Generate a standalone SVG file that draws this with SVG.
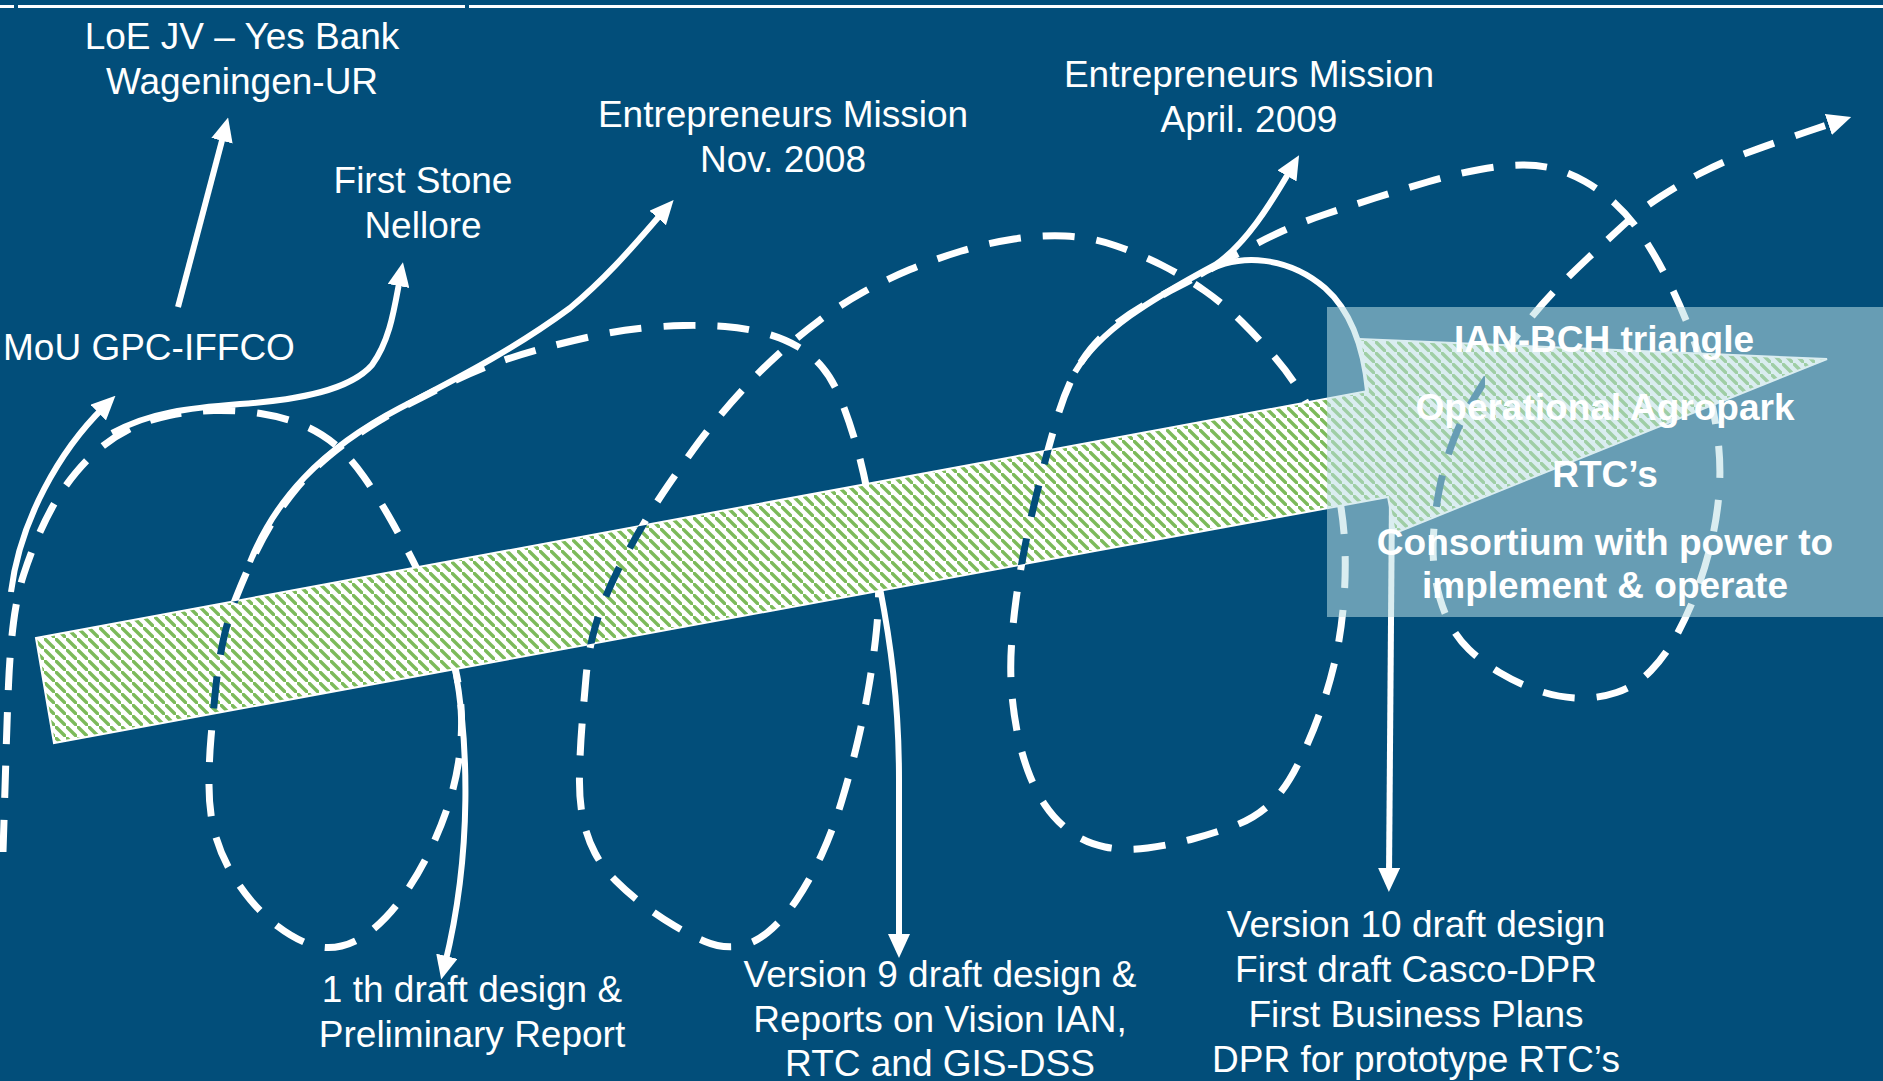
<svg xmlns="http://www.w3.org/2000/svg" width="1883" height="1081" viewBox="0 0 1883 1081">
<style>
.t{fill:#fff;font-family:"Liberation Sans",Arial,sans-serif;font-size:37px;text-anchor:middle}
.b{font-weight:bold}
.sol{fill:none;stroke:#fff;stroke-width:6;marker-end:url(#ah)}
.sol2{fill:none;stroke:#fff;stroke-width:6}
.dash{fill:none;stroke:#fff;stroke-width:7;stroke-dasharray:32 22}
</style>
<defs>
<marker id="ah" markerUnits="userSpaceOnUse" markerWidth="24" markerHeight="22" viewBox="0 0 24 22" refX="8" refY="11" orient="auto"><path d="M0,0 L24,11 L0,22 z" fill="#fff"/></marker>
<pattern id="stripe" patternUnits="userSpaceOnUse" width="11" height="11">
<rect width="11" height="11" fill="#fff"/>
<path d="M0,0 L2.4,0 L11,8.6 L11,11 L8.6,11 L0,2.4 z" fill="#7CBA5A"/>
</pattern>
<clipPath id="bandClip"><polygon points="36,638 1368,391 1360,339 1827,359 1395,533 1388,497 54,743"/></clipPath>
<clipPath id="darkClip">
<rect x="160" y="560" width="95" height="200" clip-path="url(#bandClip)"/>
<rect x="555" y="480" width="130" height="200" clip-path="url(#bandClip)"/>
<rect x="995" y="420" width="70" height="180" clip-path="url(#bandClip)"/>
<rect x="1415" y="330" width="70" height="220" clip-path="url(#bandClip)"/>
</clipPath>
<path id="spiral" d="M3,852 Q5,790 6,755 Q7,720 8.5,685 Q10,650 13.5,622.5 Q17,595 23.5,575 Q30,555 38,536.5 Q46,518 55,502.5 Q64,487 76,472.5 Q88,458 101.5,447 Q115,436 131.5,428 Q148,420 169,415.5 Q190,411 214,410.5 Q238,410 260.5,413.5 Q283,417 301.5,424.5 Q320,432 335,444.5 Q350,457 364,477 Q378,497 391.5,521 Q405,545 417.5,570 Q430,595 440,620 Q450,645 455.5,670 Q461,695 461.5,717.5 Q462,740 458.5,762.5 Q455,785 447.5,807.5 Q440,830 429,852.5 Q418,875 404,895 Q390,915 374,928.5 Q358,942 341.5,946 Q325,950 309,944 Q293,938 278,926.5 Q263,915 250.5,900 Q238,885 228.5,867.5 Q219,850 214,830 Q209,810 209,785 Q209,760 211,737.5 Q213,715 215.5,690 Q218,665 223,641.5 Q228,618 236.5,596.5 Q245,575 254,556 Q263,537 274,519.5 Q285,502 298.5,486 Q312,470 329.5,455.5 Q347,441 367.5,428 Q388,415 410,403.5 Q432,392 452,382 Q472,372 492,364.5 Q512,357 537,350 Q562,343 589,337 Q616,331 639,328.5 Q662,326 683.5,325.5 Q705,325 725,326.5 Q745,328 764,333 Q783,338 797.5,346.5 Q812,355 822.5,367.5 Q833,380 841,400 Q849,420 855.5,442.5 Q862,465 867,490 Q872,515 875,537.5 Q878,560 878.5,582.5 Q879,605 876.5,630 Q874,655 869.5,682.5 Q865,710 858,740 Q851,770 842,800 Q833,830 821.5,855 Q810,880 796.5,900 Q783,920 767.5,932.5 Q752,945 736,946.5 Q720,948 705,941.5 Q690,935 674,925.5 Q658,916 643,904.5 Q628,893 615.5,880.5 Q603,868 595,853 Q587,838 583,819 Q579,800 579.5,775 Q580,750 582,725 Q584,700 586,677.5 Q588,655 593,635 Q598,615 606,596 Q614,577 624,558.5 Q634,540 645,521.5 Q656,503 668,485.5 Q680,468 693,450 Q706,432 720.5,415 Q735,398 750.5,381.5 Q766,365 783,350 Q800,335 820,320 Q840,305 862.5,292.5 Q885,280 910,269.5 Q935,259 961.5,251 Q988,243 1014,239 Q1040,235 1065,236 Q1090,237 1115,245.5 Q1140,254 1162.5,265.5 Q1185,277 1205,291 Q1225,305 1242.5,322.5 Q1260,340 1275,357.5 Q1290,375 1301,393.5 Q1312,412 1322,437 Q1332,462 1338,491 Q1344,520 1345,550 Q1346,580 1343,610 Q1340,640 1334,665 Q1328,690 1319,715 Q1310,740 1297.5,765 Q1285,790 1270,804 Q1255,818 1235,825.5 Q1215,833 1192.5,839 Q1170,845 1147.5,848 Q1125,851 1105,847 Q1085,843 1070,831.5 Q1055,820 1045,805 Q1035,790 1028,771 Q1021,752 1017,731 Q1013,710 1011.5,689 Q1010,668 1011.5,645 Q1013,622 1016,600 Q1019,578 1023.5,554 Q1028,530 1034,505 Q1040,480 1046,457.5 Q1052,435 1058,415 Q1064,395 1072,378.5 Q1080,362 1091,348.5 Q1102,335 1116,324 Q1130,313 1146,304 Q1162,295 1178.5,286.5 Q1195,278 1211.5,268.5 Q1228,259 1246.5,249 Q1265,239 1283.5,230.5 Q1302,222 1326,214 Q1350,206 1375,198 Q1400,190 1427.5,182 Q1455,174 1480,169.5 Q1505,165 1522.5,165 Q1540,165 1555,169 Q1570,173 1585,181.5 Q1600,190 1615,203.5 Q1630,217 1642.5,236 Q1655,255 1666.5,277.5 Q1678,300 1688,325 Q1698,350 1705.5,377.5 Q1713,405 1717,432.5 Q1721,460 1719.5,486 Q1718,512 1712.5,537 Q1707,562 1698.5,586 Q1690,610 1678,632.5 Q1666,655 1651,670.5 Q1636,686 1616.5,692.5 Q1597,699 1576.5,698 Q1556,697 1536.5,690 Q1517,683 1499.5,672.5 Q1482,662 1469,649.5 Q1456,637 1448,620 Q1440,603 1436,581.5 Q1432,560 1433.5,535 Q1435,510 1440,486 Q1445,462 1453.5,440 Q1462,418 1473.5,399 Q1485,380 1498,361.5 Q1511,343 1525.5,324.5 Q1540,306 1555,290.5 Q1570,275 1587.5,258.5 Q1605,242 1622.5,226 Q1640,210 1660,197 Q1680,184 1700,173.5 Q1720,163 1740,155.5 Q1760,148 1780,141 Q1800,134 1818,128 L1836,122"/>
</defs>
<rect width="1883" height="1081" fill="#024E7A"/>
<g id="topline" stroke="#fff" stroke-width="3">
<line x1="0" y1="6.5" x2="14" y2="6.5"/>
<line x1="18" y1="6.5" x2="465" y2="6.5"/>
<line x1="469" y1="6.5" x2="1883" y2="6.5"/>
</g>
<g id="connectors">
<use href="#spiral" class="dash" style="marker-end:url(#ah)"/>
<path class="sol" d="M11,592 C20,520 60,450 104,407"/>
<path class="sol" d="M178,307 L224,133"/>
<path class="sol" d="M112,433 C150,412 190,408 240,404 C300,400 350,390 372,365 C390,340 394,310 400,278"/>
<path class="sol" d="M250,562 C275,500 320,450 400,408 C470,372 520,345 570,308 C610,275 640,238 663,212"/>
<path class="sol" d="M455,668 C468,740 473,850 445,964"/>
<path class="sol" d="M880,588 C890,640 899,700 899,780 L899,942"/>
<path class="sol" d="M1075,372 C1100,330 1150,300 1215,265 C1245,245 1270,205 1291,169"/>
<path class="sol2" d="M1200,275 C1240,250 1290,258 1325,288 C1352,312 1364,350 1368,391"/>
<path class="sol" d="M1392,496 L1389,876"/>
</g>
<g id="band">
<polygon points="36,638 1368,391 1360,339 1827,359 1395,533 1388,497 54,743" fill="url(#stripe)" stroke="#fff" stroke-width="2"/>
<use href="#spiral" class="dash" style="stroke:#024E7A" clip-path="url(#darkClip)"/>
</g>
<g id="box-result">
<rect x="1327" y="307" width="556" height="310" fill="rgb(187,222,227)" fill-opacity="0.55"/>
<text class="t b" x="1604" y="352">IAN-BCH triangle</text>
<text class="t b" x="1605" y="420">Operational Agropark</text>
<text class="t b" x="1605" y="487">RTC’s</text>
<text class="t b" x="1605" y="555">Consortium with power to</text>
<text class="t b" x="1605" y="598">implement &amp; operate</text>
</g>
<g id="loe"><text class="t" x="242" y="49">LoE JV – Yes Bank</text><text class="t" x="242" y="94">Wageningen-UR</text></g>
<g id="firststone"><text class="t" x="423" y="193">First Stone</text><text class="t" x="423" y="238">Nellore</text></g>
<g id="mou"><text class="t" x="3" y="360" style="text-anchor:start">MoU GPC-IFFCO</text></g>
<g id="mission2008"><text class="t" x="783" y="127">Entrepreneurs Mission</text><text class="t" x="783" y="172">Nov. 2008</text></g>
<g id="mission2009"><text class="t" x="1249" y="87">Entrepreneurs Mission</text><text class="t" x="1249" y="132">April. 2009</text></g>
<g id="draft1"><text class="t" x="472" y="1002">1 th draft design &amp;</text><text class="t" x="472" y="1047">Preliminary Report</text></g>
<g id="version9"><text class="t" x="940" y="987">Version 9 draft design &amp;</text><text class="t" x="940" y="1032">Reports on Vision IAN,</text><text class="t" x="940" y="1076">RTC and GIS-DSS</text></g>
<g id="version10"><text class="t" x="1416" y="937">Version 10 draft design</text><text class="t" x="1416" y="982">First draft Casco-DPR</text><text class="t" x="1416" y="1027">First Business Plans</text><text class="t" x="1416" y="1072">DPR for prototype RTC’s</text></g>
</svg>
